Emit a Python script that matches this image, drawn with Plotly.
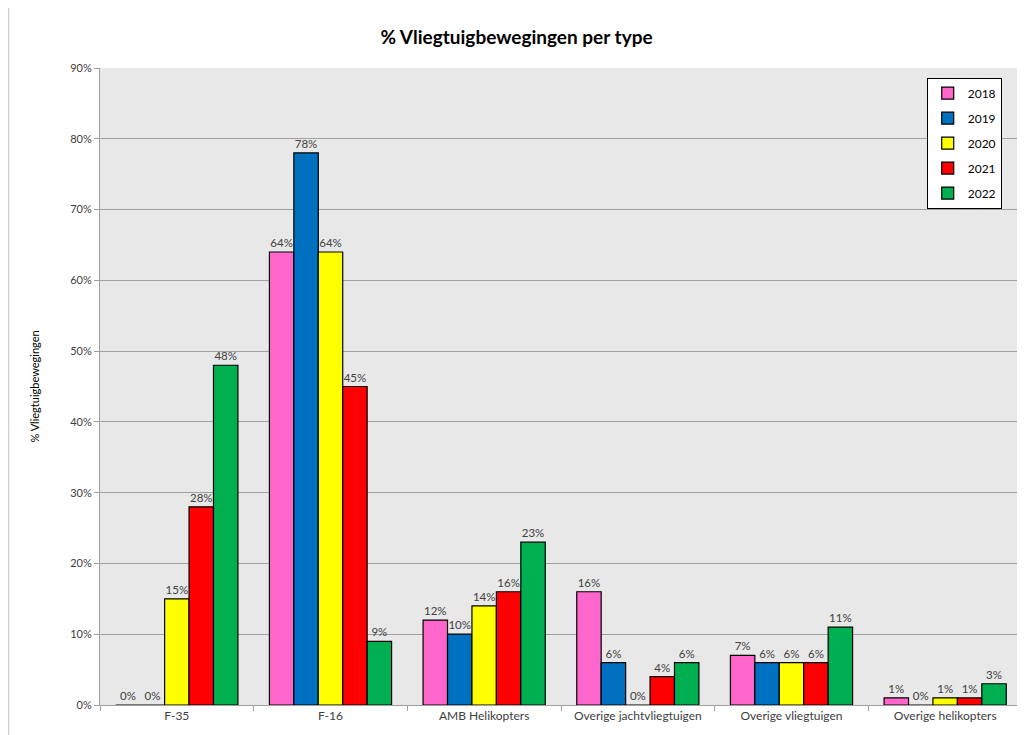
import plotly.graph_objects as go

categories = ["F-35", "F-16", "AMB Helikopters", "Overige jachtvliegtuigen", "Overige vliegtuigen", "Overige helikopters"]
years = ["2018", "2019", "2020", "2021", "2022"]
v2018 = [0, 64, 12, 16, 7, 1]
v2019 = [0, 78, 10, 6, 6, 0]
v2020 = [15, 64, 14, 0, 6, 1]
v2021 = [28, 45, 16, 4, 6, 1]
v2022 = [48, 9, 23, 6, 11, 3]
series = [v2018, v2019, v2020, v2021, v2022]
colors = ["#FF66CC", "#0070C0", "#FFFF00", "#FF0000", "#00B050"]
y_ticks = [0, 10, 20, 30, 40, 50, 60, 70, 80, 90]
y_ticktext = [f"{t}%" for t in y_ticks]

FONT = "Lato, Open Sans, sans-serif"

fig = go.Figure()
for yr, vals, col in zip(years, series, colors):
    fig.add_trace(go.Bar(
        name=yr, x=categories, y=vals,
        marker=dict(color=col, line=dict(color="#000000", width=1.2)),
        text=[f"{v}%" for v in vals], textposition="outside",
        textfont=dict(family=FONT, size=11.5, color="#404040"),
        cliponaxis=False, legendgroup=yr,
    ))

# page body has an 8px margin, so the figure is sized/placed accordingly
fig.update_layout(
    width=1017, height=727,
    paper_bgcolor="#FFFFFF", plot_bgcolor="#E8E8E8",
    margin=dict(l=92, r=3, t=60, b=30),
    barmode="group", bargap=0.205, bargroupgap=0,
    title=dict(text="<b>% Vliegtuigbewegingen per type</b>", x=0.5, xanchor="center",
               y=0.959, yanchor="middle",
               font=dict(family=FONT, size=19, color="#000000")),
    font=dict(family=FONT, size=11, color="#404040"),
    showlegend=True,
    legend=dict(x=0.978, y=0.985, xanchor="right", yanchor="top",
                bgcolor="#FFFFFF", bordercolor="#000000", borderwidth=1,
                itemwidth=30,
                font=dict(family=FONT, size=12, color="#000000"),
                traceorder="grouped", tracegroupgap=6),
    xaxis=dict(showgrid=False, ticks="outside", tickson="boundaries", ticklen=5,
               tickcolor="#A0A0A0", showline=True, linecolor="#A0A0A0", automargin=False,
               tickfont=dict(family=FONT, size=12, color="#404040")),
    yaxis=dict(range=[0, 90], tickvals=y_ticks, ticktext=y_ticktext,
               showgrid=True, gridcolor="#A0A0A0", gridwidth=1.2,
               ticks="outside", ticklen=5, tickcolor="#A0A0A0", automargin=False,
               showline=True, linecolor="#A0A0A0", zeroline=False,
               tickfont=dict(family=FONT, size=11, color="#404040"),
               title=dict(text="% Vliegtuigbewegingen", standoff=28,
                          font=dict(family=FONT, size=11, color="#000000"))),
)
fig.add_shape(type="line", xref="paper", yref="paper", x0=-0.0995, x1=-0.0995, y0=-0.047, y1=1.1,
              line=dict(color="#D0D0D0", width=2))

fig.write_html("out.html")
